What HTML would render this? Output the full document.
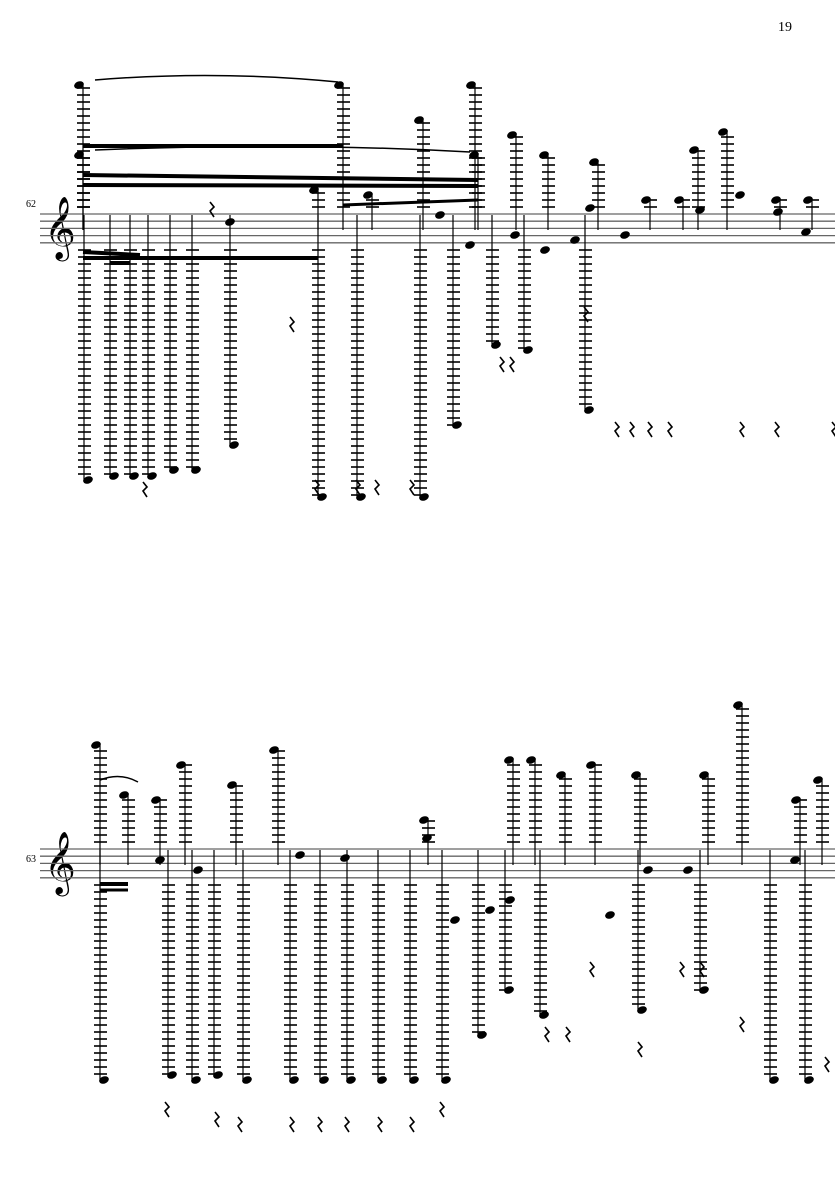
<!DOCTYPE html>
<html><head><meta charset="utf-8"><style>
html,body{margin:0;padding:0;background:#fff;width:835px;height:1181px;overflow:hidden}
svg{display:block}
text{font-family:"Liberation Serif",serif;fill:#000}
</style></head><body>
<svg id="s" width="835" height="1181" xmlns="http://www.w3.org/2000/svg">
<text x="778" y="31" font-size="14">19</text>
<text x="26" y="207" font-size="10">62</text>
<text x="26" y="862" font-size="10">63</text>
<text x="44" y="246" font-size="54">𝄞</text>
<text x="44" y="881" font-size="54">𝄞</text>
<g id="g"></g>
</svg>
<script>
const g=document.getElementById('g');let h='';
function L(x1,y1,x2,y2,w,c){h+=`<line x1="${x1}" y1="${y1}" x2="${x2}" y2="${y2}" stroke="${c||'#000'}" stroke-width="${w||1}"/>`;}
function staff(t){for(let i=0;i<5;i++)L(40,t+i*7.2,835,t+i*7.2,1.3,'#666');}
staff(214);staff(849);
function stem(x,top,bot,up,st,sb){
 L(x,top,x,bot,1.2);
 if(up){for(let y=st-7;y>=top;y-=7)L(x-6,y,x+7,y,1.6);
  h+=`<ellipse cx="${x-4}" cy="${top}" rx="5" ry="3.6" fill="#000" transform="rotate(-20 ${x-4} ${top})"/>`;}
 else{for(let y=sb+7;y<=bot;y+=7)L(x-6,y,x+7,y,1.6);
  h+=`<ellipse cx="${x+4}" cy="${bot}" rx="5" ry="3.6" fill="#000" transform="rotate(-20 ${x+4} ${bot})"/>`;}
}
const s1t=214,s1b=243,s2t=849,s2b=878;
[[83,85],[83,155],[343,85],[423,120],[475,85],[478,155],[516,135],[548,155],[598,162],[650,200],[683,200],[727,132],[698,150],[780,200],[812,200],[318,190],[372,195]].forEach(a=>stem(a[0],a[1],230,1,s1t,s1b));
[[84,480],[110,476],[130,476],[148,476],[170,470],[192,470],[230,445],[318,497],[357,497],[420,497],[453,425],[492,345],[524,350],[585,410]].forEach(a=>stem(a[0],215,a[1],0,s1t,s1b));
[[100,745],[128,795],[160,800],[185,765],[236,785],[278,750],[513,760],[535,760],[565,775],[595,765],[640,775],[708,775],[742,705],[800,800],[822,780],[428,820]].forEach(a=>stem(a[0],a[1],865,1,s2t,s2b));
[[100,1080],[168,1075],[192,1080],[214,1075],[243,1080],[290,1080],[320,1080],[347,1080],[378,1080],[410,1080],[442,1080],[478,1035],[505,990],[540,1015],[638,1010],[700,990],[770,1080],[805,1080]].forEach(a=>stem(a[0],850,a[1],0,s2t,s2b));
// beams
L(83,146,343,146,4);L(83,175,478,180,4);L(83,185,478,186,4);L(343,205,478,200,3);
L(83,258,318,258,4);L(83,252,140,255,4);L(110,263,130,263,4);
L(100,884,128,884,4);L(100,890,128,890,3);
// misc notes on staff
[[230,222],[440,215],[470,245],[515,235],[545,250],[575,240],[625,235],[590,208],[700,210],[740,195],[778,212],[806,232],[160,860],[198,870],[300,855],[345,858],[427,838],[455,920],[490,910],[510,900],[610,915],[648,870],[688,870],[795,860]].forEach(p=>h+=`<ellipse cx="${p[0]}" cy="${p[1]}" rx="5" ry="3.6" fill="#000" transform="rotate(-20 ${p[0]} ${p[1]})"/>`);
// rests
[[143,490],[210,210],[290,325],[315,488],[356,488],[375,488],[410,488],[500,365],[510,365],[584,315],[615,430],[630,430],[648,430],[668,430],[740,430],[775,430],[832,430],[165,1110],[215,1120],[238,1125],[290,1125],[318,1125],[345,1125],[378,1125],[410,1125],[440,1110],[545,1035],[566,1035],[638,1050],[680,970],[700,970],[740,1025],[825,1065],[590,970]].forEach(p=>h+=`<path d="M${p[0]} ${p[1]-8}l4 5-4 4 4 6" stroke="#000" fill="none" stroke-width="1.6"/>`);
// slurs
h+='<path d="M95 80 Q215 70 338 82" stroke="#000" fill="none" stroke-width="1.5"/>';
h+='<path d="M95 150 Q290 142 470 152" stroke="#000" fill="none" stroke-width="1.5"/>';
h+='<path d="M100 780 Q120 772 138 782" stroke="#000" fill="none" stroke-width="1.5"/>';
g.innerHTML=h;
</script>
</body></html>
